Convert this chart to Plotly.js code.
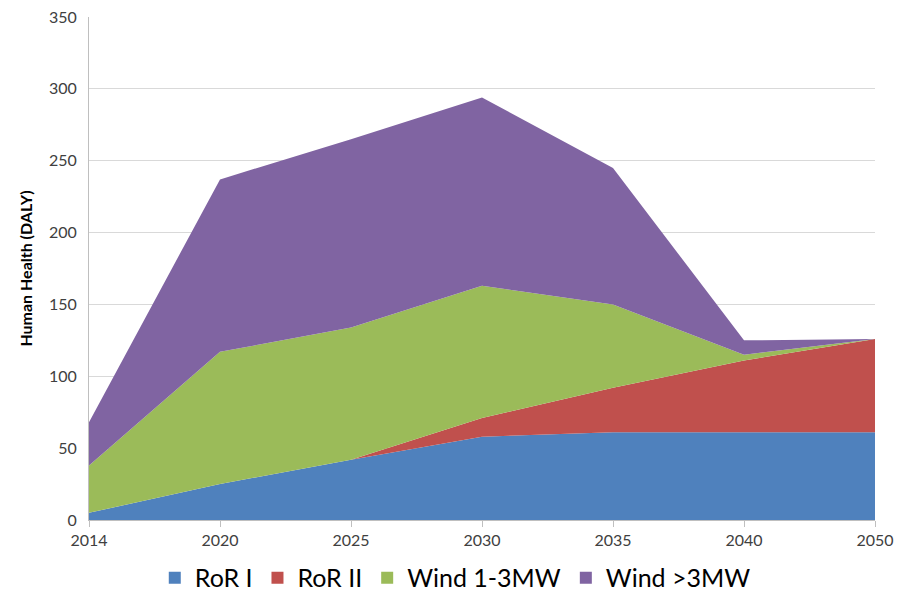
<!DOCTYPE html>
<html>
<head>
<meta charset="utf-8">
<script src="https://cdn.plot.ly/plotly-3.0.1.min.js"></script>
<style>html,body{margin:0;padding:0;background:#fff;}#chart{width:908px;height:597px;}</style>
</head>
<body>
<div id="chart"></div>
<script>
const years = ["2014", "2020", "2025", "2030", "2035", "2040", "2050"];
const rorI = [5, 25, 42, 58, 61, 61, 61];
const rorII = [0, 0, 0, 13, 31, 50, 65];
const wind13 = [33, 92, 92, 92, 58, 4, 0];
const wind3 = [30, 120, 131, 131, 95, 10, 0];
const names = ["RoR I", "RoR II", "Wind 1-3MW", "Wind >3MW"];
const colors = ["#4F81BD", "#C0504D", "#9BBB59", "#8064A2"];
const series = [rorI, rorII, wind13, wind3];

const font = "Lato, 'Open Sans', sans-serif";
const traces = [];
series.forEach((vals, i) => {
  traces.push({
    x: years, y: vals, type: "scatter", mode: "none",
    stackgroup: "one", fillcolor: colors[i], line: {width: 0},
    name: names[i], showlegend: false, hoverinfo: "x+y+name"
  });
});
series.forEach((vals, i) => {
  traces.push({
    x: [years[0]], y: [null], type: "scatter", mode: "markers",
    marker: {symbol: "square", size: 15, color: colors[i]},
    name: names[i], showlegend: true, hoverinfo: "skip"
  });
});

const layout = {
  width: 908, height: 597,
  margin: {l: 89, r: 33, t: 17, b: 77},
  paper_bgcolor: "#fff", plot_bgcolor: "#fff",
  font: {family: font, color: "#404040"},
  xaxis: {
    type: "category", categoryorder: "array", categoryarray: years,
    range: [0, 6], showgrid: false, zeroline: false,
    showline: true, linecolor: "#bfbfbf", linewidth: 1,
    ticks: "outside", ticklen: 6, tickcolor: "#bfbfbf",
    tickfont: {size: 16, color: "#404040", family: font}
  },
  yaxis: {
    range: [0, 350], dtick: 50, tick0: 0,
    showgrid: true, gridcolor: "#d9d9d9", gridwidth: 1,
    zeroline: false, showline: true, linecolor: "#bfbfbf", linewidth: 1,
    ticks: "", ticklen: 0, ticklabelstandoff: 8,
    tickfont: {size: 16, color: "#404040", family: font},
    title: {text: "<b>Human Health (DALY)</b>", font: {size: 16, color: "#000", family: font}, standoff: 12}
  },
  legend: {
    orientation: "h", traceorder: "normal",
    x: 0.466, xanchor: "center", xref: "paper",
    y: 0.032, yanchor: "middle", yref: "container",
    font: {size: 25, color: "#000", family: font},
    itemsizing: "constant", itemwidth: 30, tracegroupgap: 0
  },
  showlegend: true
};

Plotly.newPlot("chart", traces, layout, {displayModeBar: false, staticPlot: true});
</script>
</body>
</html>
